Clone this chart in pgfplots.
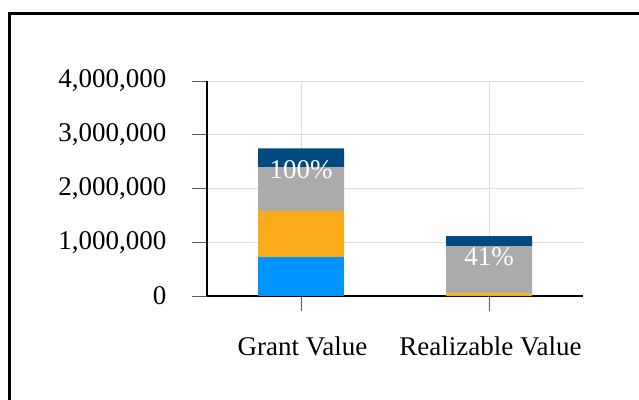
\documentclass[border=0pt]{standalone}
\usepackage{pgfplots}
\pgfplotsset{compat=1.18}
\usepackage{fontspec}
\setmainfont{Liberation Serif}
\definecolor{cBlue}{HTML}{0094FF}
\definecolor{cOrange}{HTML}{F9AB1A}
\definecolor{cGray}{HTML}{ABABAB}
\definecolor{cDark}{HTML}{004A80}
\definecolor{cGrid}{HTML}{DDDDDD}
\begin{document}
\begin{tikzpicture}
\path[use as bounding box,clip] (0bp,0bp) rectangle (639bp,-400bp);
\draw[line width=3bp,black] (9.5bp,-420bp) -- (9.5bp,-13.5bp) -- (660bp,-13.5bp);
\begin{axis}[
  at={(207bp,-296bp)}, anchor=south west,
  scale only axis, width=376bp, height=215bp,
  ybar stacked, bar width=86bp,
  xmin=-0.5, xmax=1.5, ymin=0, ymax=4000000,
  xtick=data, xticklabels={Grant Value, Realizable Value},
  ytick={0,1000000,2000000,3000000,4000000},
  scaled y ticks=false,
  /pgf/number format/fixed,
  /pgf/number format/1000 sep={,},
  /pgf/number format/assume math mode=true,
  ticklabel style={font=\fontsize{27bp}{31bp}\selectfont},
  yticklabel style={xshift=-22bp},
  xticklabel style={yshift=-22bp, xshift=1.5bp},
  grid=major, major grid style={cGrid, line width=0.8bp},
  axis x line*=bottom, axis y line*=left,
  axis line style={line width=2.6bp, black, -},
  tick style={color=black!65, line width=1bp},
  major tick length=15bp,
  tick align=outside,
  every axis plot/.append style={draw=none},
]
\addplot[fill=cBlue] coordinates {(0,726000) (1,0)};
\addplot[fill=cOrange] coordinates {(0,855000) (1,50000)};
\addplot[fill=cGray] coordinates {(0,815000) (1,880000)};
\addplot[fill=cDark] coordinates {(0,352000) (1,186000)};
\coordinate (lg) at (axis cs:0,2748000);
\coordinate (lr) at (axis cs:1,1116000);
\end{axis}
\node[text=white, font=\fontsize{27bp}{31bp}\selectfont, yshift=-21bp] at (lg) {100\%};
\node[text=white, font=\fontsize{27bp}{31bp}\selectfont, yshift=-21bp] at (lr) {41\%};
\end{tikzpicture}
\end{document}
